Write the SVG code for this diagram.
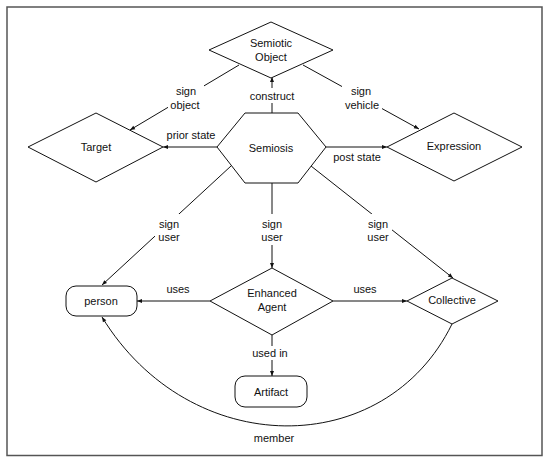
<svg xmlns="http://www.w3.org/2000/svg" width="550" height="463" viewBox="0 0 550 463">
<defs>
<marker id="arr" viewBox="0 0 10 10" refX="10" refY="5" markerWidth="6" markerHeight="5" markerUnits="userSpaceOnUse" orient="auto">
<path d="M0,1 L10,5 L0,9 Z" fill="#111"/>
</marker>
</defs>
<style>
text{font-family:"Liberation Sans",Arial,sans-serif;font-size:11px;fill:#111;text-anchor:middle}
.shape{fill:#fff;stroke:#111;stroke-width:1}
.edge{fill:none;stroke:#111;stroke-width:1;marker-end:url(#arr)}
.bg{fill:#fff;stroke:none}
</style>
<rect x="0" y="0" width="550" height="463" fill="#fff"/>
<rect x="7" y="7" width="535" height="448.5" fill="none" stroke="#555" stroke-width="1.5"/>
<g id="connectors">
<path class="edge" d="M272,113 L272,77"/>
<path class="edge" d="M239,65 L130,130"/>
<path class="edge" d="M303,65 L419,129"/>
<path class="edge" d="M217,147 L163,147"/>
<path class="edge" d="M326,147 L387,147"/>
<path class="edge" d="M231,166 L102,285"/>
<path class="edge" d="M272,183 L272,268"/>
<path class="edge" d="M311,166 L453,278"/>
<path class="edge" d="M210,301 L137,301"/>
<path class="edge" d="M333,301 L407,301"/>
<path class="edge" d="M272,335 L272,376"/>
<path class="edge" d="M452,324 C385,461 190,461 102,317"/>
<g id="label-construct"><rect class="bg" x="248" y="88" width="48" height="15"/><text x="272" y="100">construct</text></g>
<g id="label-sign-object"><rect class="bg" x="168" y="84" width="36" height="28"/><text x="186" y="95">sign</text><text x="185" y="109">object</text></g>
<g id="label-sign-vehicle"><rect class="bg" x="342" y="84" width="40" height="28"/><text x="361" y="95">sign</text><text x="362" y="109">vehicle</text></g>
<text x="191" y="139">prior state</text>
<text x="357" y="161">post state</text>
<g id="label-sign-user-1"><rect class="bg" x="155" y="214" width="28" height="31"/><text x="169" y="228">sign</text><text x="169" y="241">user</text></g>
<g id="label-sign-user-2"><rect class="bg" x="258" y="214" width="28" height="31"/><text x="272" y="228">sign</text><text x="272" y="241">user</text></g>
<g id="label-sign-user-3"><rect class="bg" x="364" y="214" width="28" height="31"/><text x="378" y="228">sign</text><text x="378" y="241">user</text></g>
<text x="178" y="293">uses</text>
<text x="365" y="293">uses</text>
<g id="label-used-in"><rect class="bg" x="250" y="346" width="40" height="14"/><text x="270" y="357">used in</text></g>
<text x="274" y="442">member</text>
</g>
<g id="semiotic-object"><polygon class="shape" points="271,22 333,50 271,78 209,50"/><text x="271" y="47">Semiotic</text><text x="271" y="61">Object</text></g>
<g id="semiosis"><polygon class="shape" points="217,147 245,113 298,113 326,147 298,183 245,183"/><text x="271" y="152">Semiosis</text></g>
<g id="target"><polygon class="shape" points="28,147 96,113 163,147 96,182"/><text x="96" y="151">Target</text></g>
<g id="expression"><polygon class="shape" points="387,147 454,113 522,147 454,181"/><text x="454" y="150">Expression</text></g>
<g id="enhanced-agent"><polygon class="shape" points="210,301 272,268 333,301 272,335"/><text x="272" y="297">Enhanced</text><text x="272" y="311">Agent</text></g>
<g id="person"><rect class="shape" x="66" y="286" width="71" height="30" rx="10" ry="10"/><text x="101" y="305">person</text></g>
<g id="collective"><polygon class="shape" points="407,301 452,278 498,301 452,324"/><text x="452" y="304">Collective</text></g>
<g id="artifact"><rect class="shape" x="235" y="376" width="72" height="31" rx="10" ry="10"/><text x="271" y="396">Artifact</text></g>
</svg>
